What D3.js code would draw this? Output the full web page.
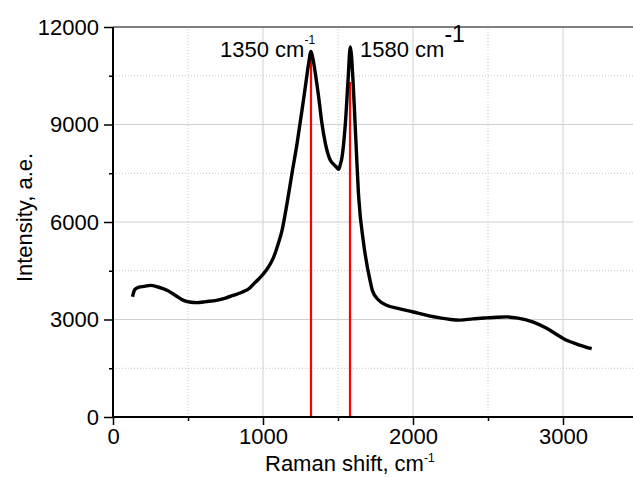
<!DOCTYPE html>
<html>
<head>
<meta charset="utf-8">
<script src="https://cdn.jsdelivr.net/npm/d3@7"></script>
<style>
  html, body { margin: 0; padding: 0; background: #fff; }
  svg { display: block; font-family: "Liberation Sans", Arial, sans-serif; }
</style>
</head>
<body>
<div id="chart"></div>
<script>
// spectrum
const ramanShift = [
  130, 145, 170, 210, 250, 300, 360, 420, 470, 520, 560, 620, 690, 750, 800,
  860, 910, 937, 970, 1004, 1040, 1071, 1100, 1127, 1160, 1193, 1227, 1260, 1282,
  1304, 1320, 1334, 1349, 1371, 1393, 1416, 1449, 1475, 1489, 1504, 1515, 1527,
  1549, 1567, 1582, 1600, 1616, 1638, 1671, 1716, 1730, 1770, 1824,
  1900, 2002, 2100, 2180, 2250, 2313, 2400, 2491, 2560, 2624, 2700, 2802, 2891,
  2950, 3024, 3100, 3191
]
const intensity = [
  3700, 3920, 3990, 4020, 4050, 4000, 3900, 3730, 3590, 3530, 3520, 3550, 3590, 3660, 3740,
  3840, 3960, 4090, 4240, 4410, 4640, 4920, 5310, 5745, 6566, 7489, 8412, 9437, 10154,
  10872, 11250, 11000, 10566, 9846, 9028, 8412, 7898, 7760, 7692, 7620, 7760, 8000,
  9028, 10360, 11385, 10360, 8822, 6769, 5335, 4150, 3880, 3600, 3440,
  3340, 3230, 3120, 3050, 3000, 2980, 3020, 3050, 3070, 3080, 3040, 2920, 2730,
  2560, 2360, 2230, 2100
]

// peak markers (red drop lines)
const peakPos = [1320, 1580]
const peakHeight = [11280, 10310]
const peakLabels = ['1350 cm', '1580 cm']

const xMajor = [0, 1000, 2000, 3000]
const xMinor = [500, 1500, 2500]
const yMajor = [0, 3000, 6000, 9000, 12000]
const yMinor = [1500, 4500, 7500, 10500]

const width = 633
const height = 477
const margin = { top: 27, left: 113 }
const plotW = 525
const plotH = 390
const fontSize = 22

const x = d3.scaleLinear().domain([0, 3500]).range([margin.left, margin.left + plotW])
const y = d3.scaleLinear().domain([0, 12000]).range([margin.top + plotH, margin.top])

const svg = d3.select('#chart')
  .append('svg')
  .attr('width', width)
  .attr('height', height)

// grid
const grid = svg.append('g')
grid.selectAll('.vmin').data(xMinor).join('line')
  .attr('x1', d => x(d)).attr('x2', d => x(d))
  .attr('y1', y(0)).attr('y2', y(12000))
  .attr('stroke', '#c8c8c8').attr('stroke-width', 1).attr('stroke-dasharray', '1,2')
grid.selectAll('.hmin').data(yMinor).join('line')
  .attr('x1', x(0)).attr('x2', width)
  .attr('y1', d => y(d)).attr('y2', d => y(d))
  .attr('stroke', '#c8c8c8').attr('stroke-width', 1).attr('stroke-dasharray', '1,2')
grid.selectAll('.vmaj').data(xMajor.slice(1)).join('line')
  .attr('x1', d => x(d)).attr('x2', d => x(d))
  .attr('y1', y(0)).attr('y2', y(12000))
  .attr('stroke', '#d0d0d0').attr('stroke-width', 1)
grid.selectAll('.hmaj').data(yMajor.slice(1, -1)).join('line')
  .attr('x1', x(0)).attr('x2', width)
  .attr('y1', d => y(d)).attr('y2', d => y(d))
  .attr('stroke', '#d0d0d0').attr('stroke-width', 1)

// top frame
svg.append('line')
  .attr('x1', x(0)).attr('x2', width)
  .attr('y1', y(12000)).attr('y2', y(12000))
  .attr('stroke', '#555').attr('stroke-width', 1.5)

// red peak lines
svg.selectAll('.peak').data(peakPos).join('line')
  .attr('x1', d => x(d)).attr('x2', d => x(d))
  .attr('y1', y(0)).attr('y2', (d, i) => y(peakHeight[i]))
  .attr('stroke', '#ff0000').attr('stroke-width', 2.2)

// spectrum
const line = d3.line()
  .x(d => x(d[0]))
  .y(d => y(d[1]))
  .curve(d3.curveMonotoneX)
svg.append('path')
  .datum(ramanShift.map((v, i) => [v, intensity[i]]))
  .attr('d', line)
  .attr('fill', 'none')
  .attr('stroke', '#000')
  .attr('stroke-width', 3.4)
  .attr('stroke-linejoin', 'round')

// axes
const xAxis = svg.append('g')
  .attr('transform', `translate(0,${y(0)})`)
  .call(d3.axisBottom(x).tickValues(xMajor).tickSize(8).tickPadding(3).tickFormat(d3.format('d')))
xAxis.append('g')
  .call(d3.axisBottom(x).tickValues(xMinor).tickSize(4).tickFormat(''))
xAxis.selectAll('.domain').attr('stroke', 'none')
svg.append('line')
  .attr('x1', x(0)).attr('x2', width)
  .attr('y1', y(0)).attr('y2', y(0))
  .attr('stroke', '#000').attr('stroke-width', 2)

const yAxis = svg.append('g')
  .attr('transform', `translate(${x(0)},0)`)
  .call(d3.axisLeft(y).tickValues(yMajor).tickSize(9).tickPadding(5).tickFormat(d3.format('d')))
yAxis.append('g')
  .call(d3.axisLeft(y).tickValues(yMinor).tickSize(4).tickFormat(''))
yAxis.selectAll('.domain').attr('stroke', 'none')
svg.append('line')
  .attr('x1', x(0)).attr('x2', x(0))
  .attr('y1', y(12000)).attr('y2', y(0) + 1)
  .attr('stroke', '#000').attr('stroke-width', 2)

svg.selectAll('.tick line').attr('stroke', '#000').attr('stroke-width', 1.5)
svg.selectAll('.tick text')
  .attr('font-family', '"Liberation Sans", Arial, sans-serif')
  .attr('font-size', fontSize)
  .attr('fill', '#000')

// axis titles
const xt = svg.append('text')
  .attr('x', 265).attr('y', 471)
  .attr('font-size', fontSize)
  .text('Raman shift, cm')
xt.append('tspan').attr('font-size', 12).attr('dy', -9).text('-1')

svg.append('text')
  .attr('transform', `translate(32,${(150 + 285) / 2}) rotate(-90)`)
  .attr('text-anchor', 'middle')
  .attr('font-size', fontSize)
  .text('Intensity, a.e.')

// peak labels
const l1 = svg.append('text')
  .attr('x', x(peakPos[0]) - 91).attr('y', 57)
  .attr('font-size', fontSize)
  .text(peakLabels[0])
l1.append('tspan').attr('font-size', 12).attr('dy', -13).text('-1')

const l2 = svg.append('text')
  .attr('x', x(peakPos[1]) + 10).attr('y', 57)
  .attr('font-size', fontSize)
  .text(peakLabels[1])
l2.append('tspan').attr('font-size', 23).attr('dy', -15).text('-1')
</script>
</body>
</html>
